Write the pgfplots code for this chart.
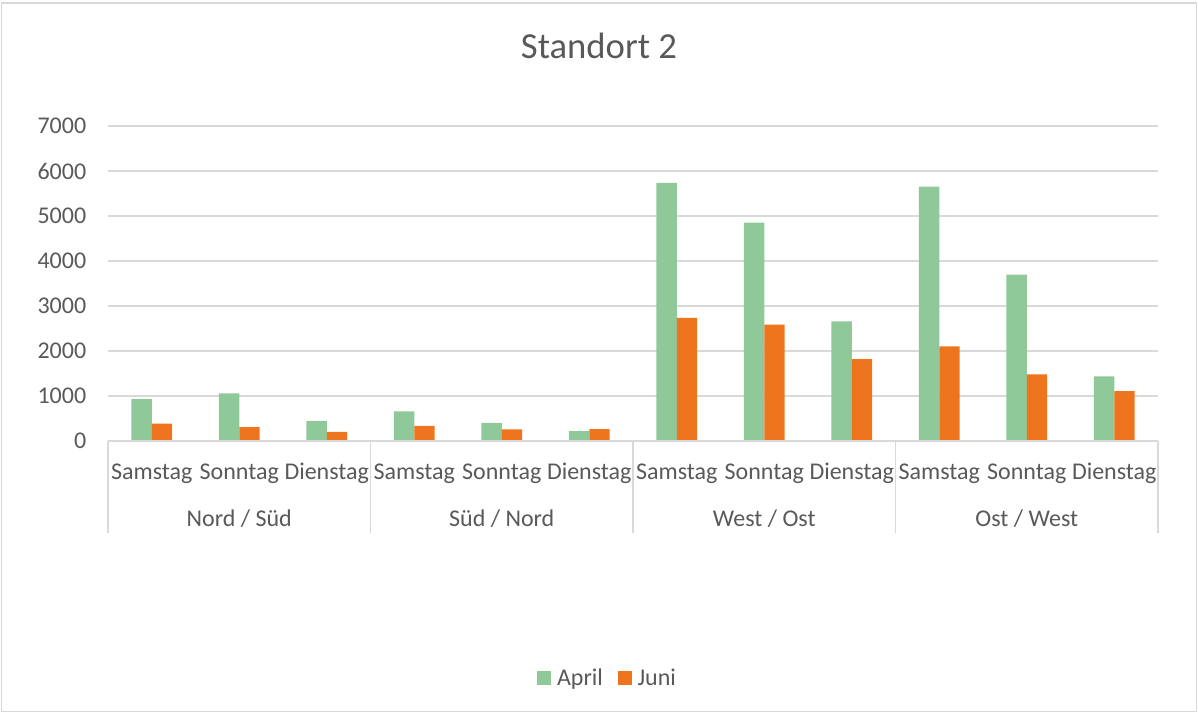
\documentclass[border=0pt]{standalone}
\usepackage{fontspec}
\setmainfont{Carlito}
\usepackage{pgfplots}
\pgfplotsset{compat=1.18}
\definecolor{aprilgreen}{RGB}{143,200,153}
\definecolor{juniorange}{RGB}{238,116,29}
\definecolor{gridgray}{RGB}{217,217,217}
\definecolor{textgray}{RGB}{89,89,89}
\begin{document}
\begin{tikzpicture}[x=1pt,y=1pt]
\useasboundingbox (0pt,0pt) rectangle (898.5pt,534.75pt);
\draw[gridgray, line width=0.9pt] (1pt,1.2pt) rectangle (897.3pt,532.5pt);
\node[text=textgray, font=\fontsize{27.5}{33}\selectfont, anchor=base] at (449.25pt,490.5pt) {Standort 2};
\begin{axis}[
  at={(81pt,204pt)}, anchor=south west,
  scale only axis, width=787.5pt, height=236.25pt,
  xmin=-0.5, xmax=11.5, ymin=0, ymax=7000,
  axis line style={draw=none},
  ybar=0pt, bar width=15.3pt,
  ytick={0,1000,...,7000},
  yticklabels={0,1000,2000,3000,4000,5000,6000,7000},
  xtick={0,...,11},
  xticklabels={Samstag,Sonntag,Dienstag,Samstag,Sonntag,Dienstag,Samstag,Sonntag,Dienstag,Samstag,Sonntag,Dienstag},
  major tick length=0pt,
  tick style={draw=none},
  ymajorgrids,
  grid style={gridgray, line width=1pt},
  ticklabel style={text=textgray, font=\fontsize{18}{21}\selectfont},
  yticklabel style={anchor=east, xshift=-12.8pt},
  xticklabel style={anchor=base, yshift=-28.7pt},
  clip=false,
  legend style={at={(0.476,-0.752)}, anchor=center, draw=none, fill=none,
    legend columns=2, font=\fontsize{18}{21}\selectfont, text=textgray,
    /tikz/every odd column/.append style={column sep=2.5pt},
    /tikz/every even column/.append style={column sep=9pt}},
  legend image code/.code={\fill[#1] (0pt,-5.25pt) rectangle (10.5pt,5.25pt);},
]
\addplot[fill=aprilgreen, draw=none] coordinates {
  (0,930) (1,1060) (2,445)
  (3,660) (4,405) (5,220)
  (6,5735) (7,4850) (8,2660)
  (9,5650) (10,3695) (11,1435)};
\addlegendentry{April}
\addplot[fill=juniorange, draw=none] coordinates {
  (0,385) (1,310) (2,200)
  (3,335) (4,260) (5,265)
  (6,2735) (7,2585) (8,1820)
  (9,2105) (10,1480) (11,1110)};
\addlegendentry{Juni}
\draw[gridgray, line width=1.2pt] (axis cs:-0.5,0) -- (axis cs:11.5,0);
\draw[gridgray, line width=1.2pt] (axis cs:-0.5,0) -- ++(0pt,-69pt);
\draw[gridgray, line width=1.2pt] (axis cs:2.5,0) -- ++(0pt,-69pt);
\draw[gridgray, line width=1.2pt] (axis cs:5.5,0) -- ++(0pt,-69pt);
\draw[gridgray, line width=1.2pt] (axis cs:8.5,0) -- ++(0pt,-69pt);
\draw[gridgray, line width=1.2pt] (axis cs:11.5,0) -- ++(0pt,-69pt);
\node[anchor=base, text=textgray, font=\fontsize{18}{21}\selectfont] at ([yshift=-64.3pt]axis cs:1,0) {Nord / Süd};
\node[anchor=base, text=textgray, font=\fontsize{18}{21}\selectfont] at ([yshift=-64.3pt]axis cs:4,0) {Süd / Nord};
\node[anchor=base, text=textgray, font=\fontsize{18}{21}\selectfont] at ([yshift=-64.3pt]axis cs:7,0) {West / Ost};
\node[anchor=base, text=textgray, font=\fontsize{18}{21}\selectfont] at ([yshift=-64.3pt]axis cs:10,0) {Ost / West};
\end{axis}
\end{tikzpicture}
\end{document}
